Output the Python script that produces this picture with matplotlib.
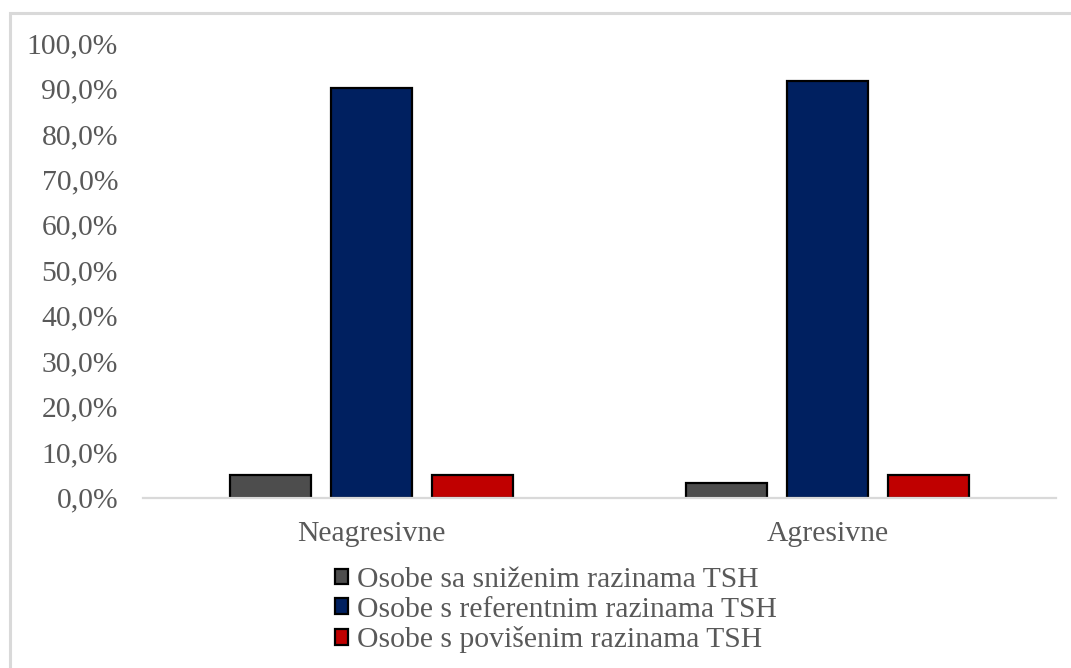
import matplotlib
matplotlib.use("Agg")
import matplotlib.pyplot as plt
from matplotlib.patches import Rectangle
import numpy as np

# Data
categories = ["Neagresivne", "Agresivne"]
series_names = [
    "Osobe sa sniženim razinama TSH",
    "Osobe s referentnim razinama TSH",
    "Osobe s povišenim razinama TSH",
]
snizeni = [5.0, 3.1]
referentni = [90.0, 91.7]
poviseni = [5.0, 4.9]
y_ticks = [0, 10, 20, 30, 40, 50, 60, 70, 80, 90, 100]

colors = ["#4D4D4D", "#002060", "#C00000"]
text_color = "#595959"

plt.rcParams["font.family"] = ["Liberation Serif", "DejaVu Serif"]

W, H = 1071, 668
fig = plt.figure(figsize=(W / 100, H / 100), dpi=100)

# Outer chart frame (open at the right and bottom edges of the canvas)
fig.patches.append(Rectangle((10 / W, -0.2), 1.2, 0.2 + (H - 13) / H, transform=fig.transFigure,
                             fill=False, edgecolor="#D9D9D9", linewidth=2.2, zorder=0))

ax = fig.add_axes([143 / W, 170.5 / H, (1056 - 143) / W, (625 - 170.5) / H])

x = np.arange(len(categories))
step = 0.221
width = 0.177
for i, (vals, name, col) in enumerate(zip([snizeni, referentni, poviseni], series_names, colors)):
    ax.bar(x + (i - 1) * step, vals, width, color=col, edgecolor="black",
           linewidth=1.6, label=name, zorder=3)

ax.set_xlim(-0.5, 1.5)
ax.set_ylim(0, 100)
ax.set_yticks(y_ticks)
ax.set_yticklabels([f"{v:.1f}".replace(".", ",") + "%" for v in y_ticks])
ax.set_xticks(x)
ax.set_xticklabels(categories)

for side in ["top", "right", "left"]:
    ax.spines[side].set_visible(False)
ax.spines["bottom"].set_color("#D9D9D9")
ax.spines["bottom"].set_linewidth(1.6)
ax.spines["bottom"].set_zorder(4)

fs = 21.3
ax.tick_params(axis="both", length=0, colors=text_color, labelsize=fs)
ax.tick_params(axis="y", pad=18)
ax.tick_params(axis="x", pad=17)

leg = fig.legend(loc="upper left", bbox_to_anchor=(335 / W, 1 - 567 / H),
                 frameon=False, fontsize=fs, labelcolor=text_color,
                 handlelength=0.45, handleheight=0.45, handletextpad=0.3,
                 labelspacing=0.12, borderpad=0, borderaxespad=0)

fig.savefig("out.png", dpi=100)
